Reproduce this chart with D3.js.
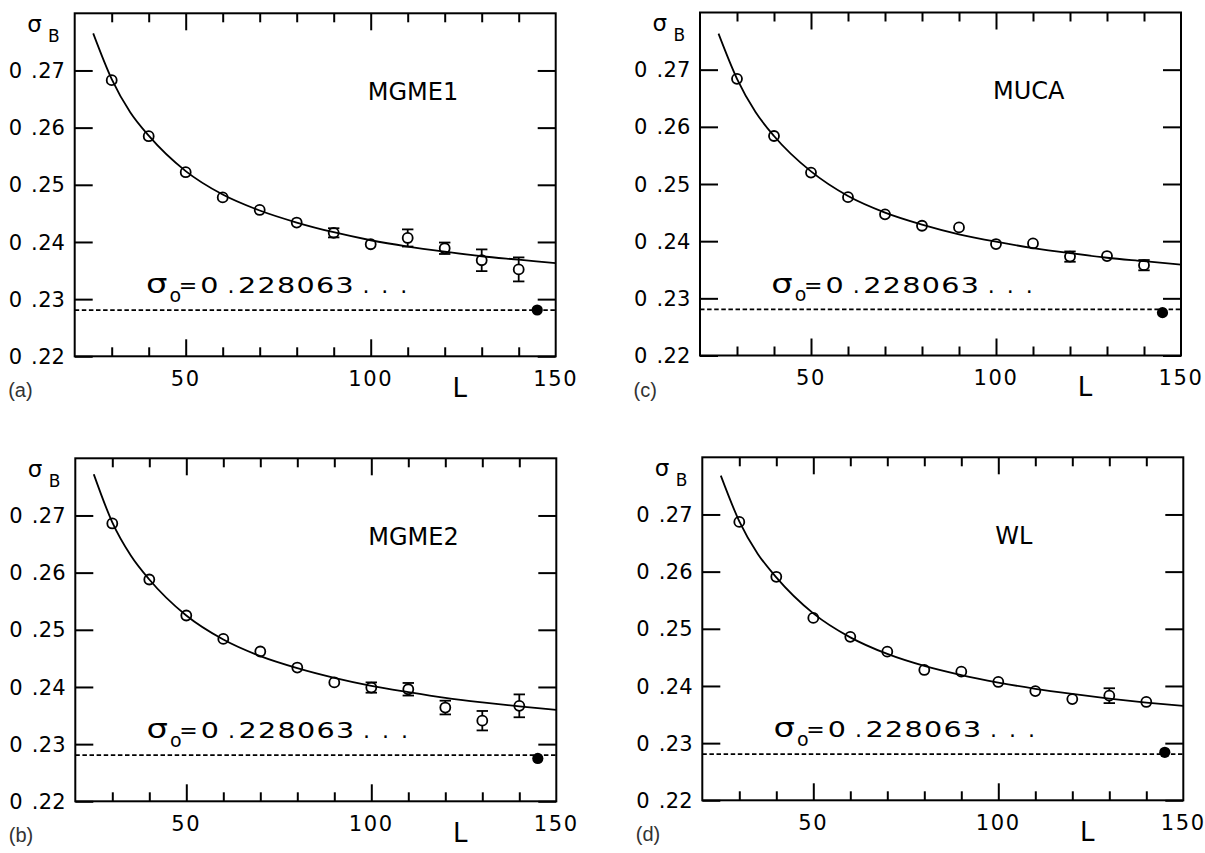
<!DOCTYPE html>
<html><head><meta charset="utf-8">
<script src="https://cdn.jsdelivr.net/npm/d3@7"></script>
<style>body{margin:0;background:#fff} svg{display:block}</style>
</head><body>
<script>
// ---------- data ----------
const L_SIZES = [30, 40, 50, 60, 70, 80, 90, 100, 110, 120, 130, 140];

const MGME1_SIGMA = [0.2683, 0.2585, 0.2522, 0.2478, 0.2456, 0.2434, 0.2416, 0.2396, 0.2407, 0.2389, 0.2368, 0.2352];
const MGME1_ERR   = [0.0003, 0.0003, 0.0003, 0.0003, 0.0003, 0.0003, 0.0008, 0.0003, 0.0015, 0.0010, 0.0019, 0.0021];

const MGME2_SIGMA = [0.2686, 0.2588, 0.2525, 0.2484, 0.2462, 0.2434, 0.2408, 0.2399, 0.2396, 0.2364, 0.2341, 0.2367];
const MGME2_ERR   = [0.0003, 0.0003, 0.0003, 0.0003, 0.0003, 0.0003, 0.0003, 0.0009, 0.0011, 0.0012, 0.0017, 0.0020];

const MUCA_SIGMA  = [0.2684, 0.2584, 0.2520, 0.2477, 0.2447, 0.2427, 0.2424, 0.2395, 0.2396, 0.2373, 0.2374, 0.2358];
const MUCA_ERR    = [0.0003, 0.0003, 0.0003, 0.0003, 0.0003, 0.0003, 0.0003, 0.0003, 0.0003, 0.0009, 0.0003, 0.0009];

const WL_SIGMA    = [0.2687, 0.2591, 0.2519, 0.2486, 0.2460, 0.2428, 0.2425, 0.2407, 0.2391, 0.2377, 0.2383, 0.2372];
const WL_ERR      = [0.0003, 0.0003, 0.0003, 0.0003, 0.0003, 0.0003, 0.0003, 0.0003, 0.0003, 0.0003, 0.0013, 0.0003];

// fitted curves
const FIT_L     = [25, 30, 35, 40, 50, 60, 70, 80, 90, 100, 110, 120, 130, 140, 150];
const MGME1_FIT = [0.2765, 0.2685, 0.2627, 0.2586, 0.2524, 0.2483, 0.2455, 0.2434, 0.2417, 0.2403, 0.2392, 0.2383, 0.2375, 0.2369, 0.2363];
const MGME2_FIT = [0.2772, 0.2688, 0.2630, 0.2588, 0.2525, 0.2483, 0.2454, 0.2433, 0.2416, 0.2402, 0.2391, 0.2381, 0.2373, 0.2366, 0.2360];
const MUCA_FIT  = [0.2763, 0.2684, 0.2626, 0.2584, 0.2522, 0.2479, 0.2450, 0.2429, 0.2412, 0.2399, 0.2388, 0.2379, 0.2371, 0.2365, 0.2359];
const WL_FIT    = [0.2768, 0.2688, 0.2631, 0.2590, 0.2527, 0.2485, 0.2456, 0.2435, 0.2419, 0.2406, 0.2395, 0.2386, 0.2378, 0.2371, 0.2365];

const SIGMA_0 = 0.228063;
const EXTRAP_L = 145;
const MGME1_EXTRAP = 0.2281;
const MGME2_EXTRAP = 0.2275;
const MUCA_EXTRAP  = 0.2275;
const WL_EXTRAP    = 0.2284;

const X_DOMAIN = [20, 150];
const Y_DOMAIN = [0.22, 0.28];
const X_MINOR_TICKS = [30, 40, 60, 70, 80, 90, 110, 120, 130, 140];
const X_MAJOR_TICKS = [50, 100];
const X_TICK_LABELS = [50, 100, 150];
const Y_TICKS = [0.22, 0.23, 0.24, 0.25, 0.26, 0.27];
const Y_TICK_LABELS = ["0.22", "0.23", "0.24", "0.25", "0.26", "0.27"];
const SIGMA0_TEXT = "0.228063";

// ---------- layout ----------
const W = 481, H = 343;
const panels = [
  {tag: "(a)", name: "MGME1", left: 74.7, top: 13.3, v: MGME1_SIGMA, e: MGME1_ERR, fit: MGME1_FIT, ex: MGME1_EXTRAP},
  {tag: "(b)", name: "MGME2", left: 75.3, top: 458.3, v: MGME2_SIGMA, e: MGME2_ERR, fit: MGME2_FIT, ex: MGME2_EXTRAP},
  {tag: "(c)", name: "MUCA",  left: 700.0, top: 12.5, v: MUCA_SIGMA, e: MUCA_ERR, fit: MUCA_FIT, ex: MUCA_EXTRAP},
  {tag: "(d)", name: "WL",    left: 702.3, top: 457.3, v: WL_SIGMA, e: WL_ERR, fit: WL_FIT, ex: WL_EXTRAP}
];

const HFONT = "'DejaVu Sans', sans-serif";
const svg = d3.select("body").append("svg").attr("width", 1205).attr("height", 853);

const x = d3.scaleLinear().domain(X_DOMAIN).range([0, W]);
const y = d3.scaleLinear().domain(Y_DOMAIN).range([H, 0]);
const R = 5;

function txt(parent, xx, yy, size, s, extra) {
  const t = parent.append("text").attr("x", xx).attr("y", yy)
    .attr("font-family", HFONT).attr("font-size", size).attr("fill", "#000").text(s);
  if (extra) Object.entries(extra).forEach(([k, v]) => t.attr(k, v));
  return t;
}

panels.forEach(p => {
  const g = svg.append("g").attr("transform", `translate(${p.left},${p.top})`);

  // ticks via d3 axes (inward)
  const styleAxis = sel => {
    sel.select(".domain").remove();
    sel.selectAll(".tick line").attr("stroke", "#000").attr("stroke-width", 2);
  };
  g.append("g").attr("transform", `translate(0,${H})`)
    .call(d3.axisBottom(x).tickValues(X_MINOR_TICKS).tickSize(-9).tickSizeOuter(0).tickFormat(""))
    .call(styleAxis);
  g.append("g").attr("transform", `translate(0,${H})`)
    .call(d3.axisBottom(x).tickValues(X_MAJOR_TICKS).tickSize(-17).tickSizeOuter(0).tickFormat(""))
    .call(styleAxis);
  g.append("g")
    .call(d3.axisTop(x).tickValues(X_MINOR_TICKS).tickSize(-9).tickSizeOuter(0).tickFormat(""))
    .call(styleAxis);
  g.append("g")
    .call(d3.axisTop(x).tickValues(X_MAJOR_TICKS).tickSize(-17).tickSizeOuter(0).tickFormat(""))
    .call(styleAxis);
  g.append("g")
    .call(d3.axisLeft(y).tickValues(Y_TICKS).tickSize(-18).tickSizeOuter(0).tickFormat(""))
    .call(styleAxis);
  g.append("g").attr("transform", `translate(${W},0)`)
    .call(d3.axisRight(y).tickValues(Y_TICKS).tickSize(-18).tickSizeOuter(0).tickFormat(""))
    .call(styleAxis);

  // frame
  g.append("rect").attr("x", 0).attr("y", 0).attr("width", W).attr("height", H)
    .attr("fill", "none").attr("stroke", "#000").attr("stroke-width", 2);

  // y tick labels
  Y_TICKS.forEach((t, i) => {
    const s = Y_TICK_LABELS[i];
    const tt = txt(g, -66, y(t) + 7.6, 21, null);
    tt.append("tspan").text(s.slice(0, 1));
    tt.append("tspan").attr("dx", 9).text(".");
    tt.append("tspan").attr("dx", 0.5).text(s.slice(2));
  });

  // x tick labels (digit spacing via dx so the text box has no trailing gap)
  X_TICK_LABELS.forEach(v => {
    const tt = txt(g, x(v) - 0.8, H + 29.6, 21, null, {"text-anchor": "middle"});
    String(v).split("").forEach((c, k) => {
      const ts = tt.append("tspan").text(c);
      if (k > 0) ts.attr("dx", 1.6);
    });
  });

  // axis titles
  txt(g, x(122.8) - 2.6, H + 40.7, 26, "L");
  const sb = txt(g, -47.5, 18.4, 23, null);
  sb.append("tspan").text("σ");
  sb.append("tspan").attr("x", -26.6).attr("y", 28.4).attr("font-size", 17).text("B");

  // panel tag
  g.append("text").attr("x", -66.5).attr("y", H + 41.2)
    .attr("font-family", "'Liberation Sans', Arial, sans-serif").attr("font-size", 20)
    .attr("fill", "#333").text(p.tag);

  // method name
  txt(g, x(99.6) - 1.5, 86.7, 24, p.name);

  // sigma_0 dashed line
  g.append("line").attr("x1", 0).attr("x2", W).attr("y1", y(SIGMA_0)).attr("y2", y(SIGMA_0))
    .attr("stroke", "#000").attr("stroke-width", 1.7).attr("stroke-dasharray", "4.5,2.6");

  // sigma_0 label (wide, Hershey-like glyphs approximated by horizontal stretching)
  const X0 = x(40), Y0 = 280;
  const lab = g.append("g").attr("transform", `translate(${X0},${Y0})`);
  txt(lab, 0, 0, 26, "σ").attr("transform", "translate(-2.8,0) scale(1.3,1)");
  txt(lab, 20.8, 8.5, 19, "o");
  txt(lab, 30, 0, 22, "=");
  txt(lab, 0, 0, 22, SIGMA0_TEXT.slice(0, 1)).attr("transform", "translate(51.5,0) scale(1.3,1)");
  txt(lab, 78.7, 0, 22, ".");
  txt(lab, 0, 0, 22, SIGMA0_TEXT.slice(2), {"letter-spacing": 1})
    .attr("transform", "translate(89.3,0) scale(1.3,1)");
  txt(lab, 213.7, 0, 22, ". . .", {"letter-spacing": 2.5});

  // fit curve
  const fitPts = FIT_L.map((l, i) => [l, p.fit[i]]);
  g.append("path").datum(fitPts)
    .attr("d", d3.line().x(d => x(d[0])).y(d => y(d[1])).curve(d3.curveMonotoneX))
    .attr("fill", "none").attr("stroke", "#000").attr("stroke-width", 1.8);

  // data points with error bars
  const pts = L_SIZES.map((l, i) => ({l, v: p.v[i], e: p.e[i]}));
  const pg = g.append("g");
  pts.forEach(d => {
    const cx = x(d.l), cy = y(d.v);
    const ep = y(d.v - d.e) - cy;
    if (ep >= 3.5) {
      if (ep > R) {
        pg.append("line").attr("x1", cx).attr("x2", cx).attr("y1", cy - ep).attr("y2", cy - R)
          .attr("stroke", "#000").attr("stroke-width", 1.8);
        pg.append("line").attr("x1", cx).attr("x2", cx).attr("y1", cy + R).attr("y2", cy + ep)
          .attr("stroke", "#000").attr("stroke-width", 1.8);
      }
      [cy - ep, cy + ep].forEach(yy => {
        pg.append("line").attr("x1", cx - 5.7).attr("x2", cx + 5.7).attr("y1", yy).attr("y2", yy)
          .attr("stroke", "#000").attr("stroke-width", 1.8);
      });
    }
  });
  pg.selectAll("circle.pt").data(pts).enter().append("circle").attr("class", "pt")
    .attr("cx", d => x(d.l)).attr("cy", d => y(d.v)).attr("r", R)
    .attr("fill", "none").attr("stroke", "#000").attr("stroke-width", 1.8);

  // extrapolated value
  g.append("circle").attr("cx", x(EXTRAP_L)).attr("cy", y(p.ex)).attr("r", 5.6).attr("fill", "#000");
});
</script>
</body></html>
